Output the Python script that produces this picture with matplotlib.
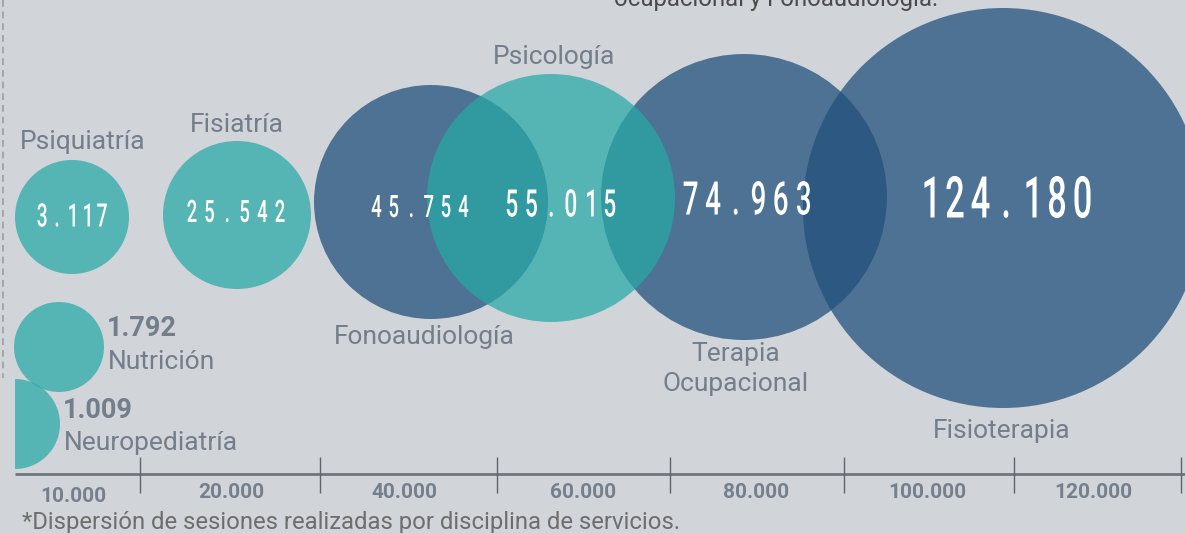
import matplotlib
import matplotlib.pyplot as plt
from matplotlib.font_manager import FontProperties
from matplotlib.patches import Circle, PathPatch, Wedge
from matplotlib.textpath import TextPath
from matplotlib.transforms import Affine2D

matplotlib.use("Agg")

# ── Data ────────────────────────────────────────────────────────────────
disciplines = ["Fisioterapia", "Terapia\nOcupacional", "Fonoaudiología", "Psicología",
               "Fisiatría", "Psiquiatría", "Nutrición", "Neuropediatría"]
sessions = [124180, 74963, 45754, 55015, 25542, 3117, 1792, 1009]
group = ["blue", "blue", "blue", "teal", "teal", "teal", "teal", "teal"]
axis_labels = ["10.000", "20.000", "40.000", "60.000", "80.000", "100.000", "120.000"]

# ── Layout (pixel space, y grows downward) ─────────────────────────────
circ_x = [1003, 744, 431, 551, 237, 72, 59, 15]
circ_y = [208, 197, 202, 198, 215, 217, 347, 424]
circ_r = [200, 143, 117, 124, 74, 57, 45, 45]
# numbers inside circles: centre x, centre y, cap height (px), character pitch (px)
num_pos = {0: (1006, 197, 41, 25.5), 1: (747, 198, 33, 22.6), 2: (420, 206, 22, 17.4),
           3: (561, 203, 27, 19.6), 4: (236, 211, 22, 17.6), 5: (72, 215, 23, 15.0)}
name_pos = {0: (1002, 431), 1: (736, 369), 2: (424, 337), 3: (554, 57),
            4: (237, 125), 5: (83, 142)}
side_pos = {6: (108, 328, 362), 7: (64, 411, 443)}
tick_x = [140, 320, 497, 670, 844, 1014, 1181]
label_x = [73, 231, 404, 583, 756, 927, 1093]
label_y = [497, 493, 493, 493, 493, 493, 493]

BG = "#d1d4d8"
COLORS = {"blue": ("#21507c", 0.74), "teal": ("#26a9a6", 0.72)}
GREY = "#737e8a"
NUM_PROP = FontProperties(family="Roboto", weight="medium")
CAP = 0.711      # Roboto cap height / em
SQUEEZE = 0.6    # horizontal condensing of the big numbers


def fmt(v):
    return f"{v:,}".replace(",", ".")


def condensed_number(ax, x, y, s, cap_px, pitch):
    """Draw s as tall, narrow, letter-spaced glyphs centred on (x, y)."""
    sy = cap_px / CAP
    sx = sy * SQUEEZE
    base = y + cap_px / 2
    n = len(s)
    for i, ch in enumerate(s):
        tp = TextPath((0, 0), ch, size=1, prop=NUM_PROP)
        ext = tp.get_extents()
        gx = (ext.x0 + ext.x1) / 2
        cx = x + (i - (n - 1) / 2) * pitch
        tr = Affine2D().translate(-gx, 0).scale(sx, -sy).translate(cx, base) + ax.transData
        ax.add_patch(PathPatch(tp, transform=tr, facecolor="white", lw=0, zorder=5))


def main():
    fig = plt.figure(figsize=(11.85, 5.33), dpi=100, facecolor=BG)
    ax = fig.add_axes([0, 0, 1, 1])
    ax.set_xlim(0, 1185)
    ax.set_ylim(533, 0)
    ax.axis("off")
    ax.set_facecolor(BG)

    for i, name in enumerate(disciplines):
        col, alpha = COLORS[group[i]]
        if i == 7:
            patch = Wedge((circ_x[i], circ_y[i]), circ_r[i], -90, 90, facecolor=col,
                          alpha=alpha, lw=0, zorder=2)
        else:
            patch = Circle((circ_x[i], circ_y[i]), circ_r[i], facecolor=col,
                           alpha=alpha, lw=0, zorder=2)
        ax.add_patch(patch)

        if i in num_pos:
            x, y, cap, pitch = num_pos[i]
            condensed_number(ax, x, y, fmt(sessions[i]), cap, pitch)
            nx, ny = name_pos[i]
            ax.text(nx, ny, name, color=GREY, fontsize=19, family="Roboto",
                    ha="center", va="center", linespacing=1.32, zorder=4)
        else:
            x, y1, y2 = side_pos[i]
            ax.text(x - 1, y1, fmt(sessions[i]), color=GREY, fontsize=19.5, family="Roboto",
                    fontweight="bold", ha="left", va="center", zorder=4)
            ax.text(x, y2, name, color=GREY, fontsize=19, family="Roboto",
                    ha="left", va="center", zorder=4)

    # dashed guide on the left
    ax.vlines(3, 0, 378, color="#9a9da2", lw=1.2, linestyles=(0, (4, 3)), zorder=1)

    # axis
    ax.hlines(474, 15, 1185, color="#6f757c", lw=2, zorder=3)
    ax.vlines(tick_x, 457, 493, color="#5f656c", lw=1, zorder=3)
    for x, y, lab in zip(label_x, label_y, axis_labels):
        ax.text(x, y, lab, color="#76808c", fontsize=15, family="Roboto",
                fontweight="bold", ha="center", va="center")

    ax.text(22, 523, "*Dispersión de sesiones realizadas por disciplina de servicios.",
            color="#6d6d6d", fontsize=17.2, family="Roboto", ha="left", va="center")
    ax.text(776, 6, "ocupacional y Fonoaudiología.", color="#4a4a4a", fontsize=17.2,
            family="Roboto", ha="center", va="baseline")

    fig.savefig("out.png", dpi=100, facecolor=BG)
    plt.close(fig)


if __name__ == "__main__":
    main()
